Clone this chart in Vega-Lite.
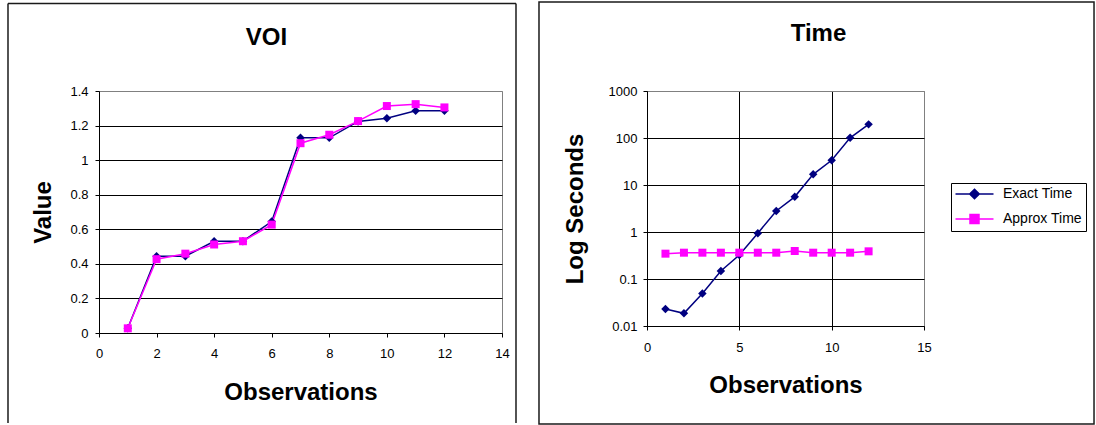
{
  "$schema": "https://vega.github.io/schema/vega-lite/v6.json",
  "background": "white",
  "padding": {"left": 6, "top": -4, "right": 0, "bottom": 0},
  "spacing": 19,
  "config": {
    "font": "Liberation Sans",
    "view": {"stroke": "#808080", "strokeWidth": 1},
    "axis": {
      "domainColor": "black", "domainWidth": 1,
      "tickColor": "black", "tickWidth": 1, "tickSize": 4,
      "labelColor": "black", "labelFont": "Liberation Sans", "labelFontSize": 13,
      "labelFlush": false, "labelOverlap": false, "labelBound": false,
      "titleColor": "black", "titleFont": "Liberation Sans", "titleFontSize": 24, "titleFontWeight": "bold",
      "gridColor": "black", "gridOpacity": 1, "gridWidth": 1
    }
  },
  "datasets": {
    "voi": [
      {"obs": 1, "series": "Exact Time", "value": 0.027},
      {"obs": 2, "series": "Exact Time", "value": 0.444},
      {"obs": 3, "series": "Exact Time", "value": 0.444},
      {"obs": 4, "series": "Exact Time", "value": 0.531},
      {"obs": 5, "series": "Exact Time", "value": 0.531},
      {"obs": 6, "series": "Exact Time", "value": 0.645},
      {"obs": 7, "series": "Exact Time", "value": 1.129},
      {"obs": 8, "series": "Exact Time", "value": 1.129},
      {"obs": 9, "series": "Exact Time", "value": 1.224},
      {"obs": 10, "series": "Exact Time", "value": 1.243},
      {"obs": 11, "series": "Exact Time", "value": 1.286},
      {"obs": 12, "series": "Exact Time", "value": 1.286},
      {"obs": 1, "series": "Approx Time", "value": 0.027},
      {"obs": 2, "series": "Approx Time", "value": 0.427},
      {"obs": 3, "series": "Approx Time", "value": 0.459},
      {"obs": 4, "series": "Approx Time", "value": 0.512},
      {"obs": 5, "series": "Approx Time", "value": 0.531},
      {"obs": 6, "series": "Approx Time", "value": 0.627},
      {"obs": 7, "series": "Approx Time", "value": 1.098},
      {"obs": 8, "series": "Approx Time", "value": 1.147},
      {"obs": 9, "series": "Approx Time", "value": 1.226},
      {"obs": 10, "series": "Approx Time", "value": 1.313},
      {"obs": 11, "series": "Approx Time", "value": 1.324},
      {"obs": 12, "series": "Approx Time", "value": 1.305}
    ],
    "time": [
      {"obs": 1, "series": "Exact Time", "seconds": 0.023},
      {"obs": 2, "series": "Exact Time", "seconds": 0.0186},
      {"obs": 3, "series": "Exact Time", "seconds": 0.049},
      {"obs": 4, "series": "Exact Time", "seconds": 0.148},
      {"obs": 5, "series": "Exact Time", "seconds": 0.324},
      {"obs": 6, "series": "Exact Time", "seconds": 0.94},
      {"obs": 7, "series": "Exact Time", "seconds": 2.8},
      {"obs": 8, "series": "Exact Time", "seconds": 5.6},
      {"obs": 9, "series": "Exact Time", "seconds": 16.9},
      {"obs": 10, "series": "Exact Time", "seconds": 33.5},
      {"obs": 11, "series": "Exact Time", "seconds": 101},
      {"obs": 12, "series": "Exact Time", "seconds": 195},
      {"obs": 1, "series": "Approx Time", "seconds": 0.346},
      {"obs": 2, "series": "Approx Time", "seconds": 0.363},
      {"obs": 3, "series": "Approx Time", "seconds": 0.363},
      {"obs": 4, "series": "Approx Time", "seconds": 0.363},
      {"obs": 5, "series": "Approx Time", "seconds": 0.363},
      {"obs": 6, "series": "Approx Time", "seconds": 0.363},
      {"obs": 7, "series": "Approx Time", "seconds": 0.363},
      {"obs": 8, "series": "Approx Time", "seconds": 0.394},
      {"obs": 9, "series": "Approx Time", "seconds": 0.363},
      {"obs": 10, "series": "Approx Time", "seconds": 0.363},
      {"obs": 11, "series": "Approx Time", "seconds": 0.363},
      {"obs": 12, "series": "Approx Time", "seconds": 0.388}
    ]
  },
  "resolve": {"scale": {"x": "independent", "y": "independent", "color": "independent"}},
  "hconcat": [
    {
      "width": 403,
      "height": 242,
      "resolve": {"axis": {"x": "independent"}},
      "layer": [
        {
          "data": {"values": [{}]},
          "layer": [
            {
              "mark": {"type": "rule", "stroke": "#1a1a1a", "strokeWidth": 1.5},
              "encoding": {
                "x": {"datum": -3.1613, "type": "quantitative", "scale": {"domain": [0, 14], "nice": false, "zero": false},
                      "axis": {"orient": "top", "domain": false, "ticks": false, "labels": false, "grid": false, "title": "VOI", "titleX": 167, "titleY": -47, "titleAlign": "center", "titleBaseline": "alphabetic"}},
                "x2": {"datum": 14.4863},
                "y": {"datum": 1.9062, "type": "quantitative", "scale": {"domain": [0, 1.4], "nice": false, "zero": false},
                      "axis": {"orient": "left", "values": [0, 0.2, 0.4, 0.6, 0.8, 1, 1.2, 1.4], "format": "~g", "grid": true, "gridColor": {"condition": {"test": "datum.value >= 1.39", "value": "#808080"}, "value": "black"}, "labelPadding": 7, "title": "Value", "titlePadding": 14.5}}
              }
            },
            {
              "mark": {"type": "rule", "stroke": "#1a1a1a", "strokeWidth": 1.5},
              "encoding": {
                "x": {"datum": -3.1613, "type": "quantitative", "scale": {"domain": [0, 14], "nice": false, "zero": false},
                      "axis": {"orient": "top", "domain": false, "ticks": false, "labels": false, "grid": false, "title": "VOI", "titleX": 167, "titleY": -47, "titleAlign": "center", "titleBaseline": "alphabetic"}},
                "y": {"datum": 1.9062, "type": "quantitative", "scale": {"domain": [0, 1.4], "nice": false, "zero": false},
                      "axis": {"orient": "left", "values": [0, 0.2, 0.4, 0.6, 0.8, 1, 1.2, 1.4], "format": "~g", "grid": true, "gridColor": {"condition": {"test": "datum.value >= 1.39", "value": "#808080"}, "value": "black"}, "labelPadding": 7, "title": "Value", "titlePadding": 14.5}},
                "y2": {"datum": -0.5207}
              }
            },
            {
              "mark": {"type": "rule", "stroke": "#1a1a1a", "strokeWidth": 1.5},
              "encoding": {
                "x": {"datum": 14.4863, "type": "quantitative", "scale": {"domain": [0, 14], "nice": false, "zero": false},
                      "axis": {"orient": "top", "domain": false, "ticks": false, "labels": false, "grid": false, "title": "VOI", "titleX": 167, "titleY": -47, "titleAlign": "center", "titleBaseline": "alphabetic"}},
                "y": {"datum": 1.9062, "type": "quantitative", "scale": {"domain": [0, 1.4], "nice": false, "zero": false},
                      "axis": {"orient": "left", "values": [0, 0.2, 0.4, 0.6, 0.8, 1, 1.2, 1.4], "format": "~g", "grid": true, "gridColor": {"condition": {"test": "datum.value >= 1.39", "value": "#808080"}, "value": "black"}, "labelPadding": 7, "title": "Value", "titlePadding": 14.5}},
                "y2": {"datum": -0.5207}
              }
            },
            {
              "mark": {"type": "rule", "stroke": "white", "strokeOpacity": 0, "strokeWidth": 0.5},
              "encoding": {
                "y": {"datum": 1.9424, "type": "quantitative", "scale": {"domain": [0, 1.4], "nice": false, "zero": false},
                      "axis": {"orient": "left", "values": [0, 0.2, 0.4, 0.6, 0.8, 1, 1.2, 1.4], "format": "~g", "grid": true, "gridColor": {"condition": {"test": "datum.value >= 1.39", "value": "#808080"}, "value": "black"}, "labelPadding": 7, "title": "Value", "titlePadding": 14.5}}
              }
            }
          ]
        },
        {
          "data": {"name": "voi"},
          "encoding": {
            "x": {"field": "obs", "type": "quantitative", "scale": {"domain": [0, 14], "nice": false, "zero": false},
                  "axis": {"orient": "bottom", "values": [0, 2, 4, 6, 8, 10, 12, 14], "format": "d", "grid": false, "labelPadding": 10, "title": "Observations", "titlePadding": 20}},
            "y": {"field": "value", "type": "quantitative", "scale": {"domain": [0, 1.4], "nice": false, "zero": false},
                  "axis": {"orient": "left", "values": [0, 0.2, 0.4, 0.6, 0.8, 1, 1.2, 1.4], "format": "~g", "grid": true, "gridColor": {"condition": {"test": "datum.value >= 1.39", "value": "#808080"}, "value": "black"}, "labelPadding": 7, "title": "Value", "titlePadding": 14.5}},
            "color": {"field": "series", "type": "nominal", "scale": {"domain": ["Exact Time", "Approx Time"], "range": ["#000080", "#FF00FF"]}, "legend": null}
          },
          "layer": [
            {"mark": {"type": "line", "strokeWidth": 1.5}},
            {"transform": [{"filter": "datum.series === 'Exact Time'"}], "mark": {"type": "point", "shape": "diamond", "filled": true, "opacity": 1, "size": 72}},
            {"transform": [{"filter": "datum.series === 'Approx Time'"}], "mark": {"type": "point", "shape": "square", "filled": true, "opacity": 1, "size": 64}}
          ]
        }
      ]
    },
    {
      "width": 277,
      "height": 235,
      "resolve": {"axis": {"x": "independent"}},
      "layer": [
        {
          "data": {"values": [{}]},
          "mark": {"type": "rect", "filled": false, "stroke": "#1a1a1a", "strokeWidth": 1.5},
          "encoding": {
            "x": {"datum": -5.8487, "type": "quantitative", "scale": {"domain": [0, 15], "nice": false, "zero": false},
                  "axis": {"orient": "top", "domain": false, "ticks": false, "labels": false, "grid": false, "title": "Time", "titleX": 171, "titleY": -51, "titleAlign": "center", "titleBaseline": "alphabetic"}},
            "x2": {"datum": 24.207},
            "y": {"datum": 78270, "type": "quantitative", "scale": {"type": "log", "domain": [0.01, 1000], "nice": false},
                  "axis": {"orient": "left", "values": [0.01, 0.1, 1, 10, 100, 1000], "format": "~g", "grid": true, "gridColor": {"condition": {"test": "datum.value >= 999", "value": "#808080"}, "value": "black"}, "labelPadding": 6, "title": "Log Seconds", "titlePadding": 21}},
            "y2": {"datum": 0.0000822}
          }
        },
        {
          "data": {"name": "time"},
          "encoding": {
            "x": {"field": "obs", "type": "quantitative", "scale": {"domain": [0, 15], "nice": false, "zero": false},
                  "axis": {"orient": "bottom", "values": [0, 5, 10, 15], "format": "d", "grid": true, "gridColor": {"condition": {"test": "datum.value >= 14.9", "value": "#808080"}, "value": "black"}, "labelPadding": 11, "title": "Observations", "titlePadding": 19}},
            "y": {"field": "seconds", "type": "quantitative", "scale": {"type": "log", "domain": [0.01, 1000], "nice": false},
                  "axis": {"orient": "left", "values": [0.01, 0.1, 1, 10, 100, 1000], "format": "~g", "grid": true, "gridColor": {"condition": {"test": "datum.value >= 999", "value": "#808080"}, "value": "black"}, "labelPadding": 6, "title": "Log Seconds", "titlePadding": 21}},
            "color": {"field": "series", "type": "nominal", "scale": {"domain": ["Exact Time", "Approx Time"], "range": ["#000080", "#FF00FF"]},
                      "legend": {"orient": "none", "legendX": 304, "legendY": 92, "direction": "vertical", "title": null,
                                 "strokeColor": "black", "fillColor": "white", "padding": 4,
                                 "labelFont": "Liberation Sans", "labelFontSize": 14, "labelColor": "black",
                                 "symbolSize": 144, "labelOffset": 34, "rowPadding": 9,
                                 "encode": {"symbols": {"update": {
                                   "shape": {"signal": "datum.value === 'Exact Time' ? 'M-1.083,0H5.25M2.083,-0.8L2.883,0L2.083,0.8L1.283,0Z' : 'M-1.083,0H5.25M1.333,-0.75H2.833V0.75H1.333Z'"},
                                   "fill": {"signal": "datum.value === 'Exact Time' ? '#000080' : '#FF00FF'"},
                                   "stroke": {"signal": "datum.value === 'Exact Time' ? '#000080' : '#FF00FF'"},
                                   "strokeWidth": {"value": 1.5},
                                   "opacity": {"value": 1},
                                   "fillOpacity": {"value": 1},
                                   "strokeOpacity": {"value": 1}
                                 }}}}}
          },
          "layer": [
            {"mark": {"type": "line", "strokeWidth": 1.5}},
            {"transform": [{"filter": "datum.series === 'Exact Time'"}], "mark": {"type": "point", "shape": "diamond", "filled": true, "opacity": 1, "size": 72}},
            {"transform": [{"filter": "datum.series === 'Approx Time'"}], "mark": {"type": "point", "shape": "square", "filled": true, "opacity": 1, "size": 64}}
          ]
        }
      ]
    }
  ]
}
